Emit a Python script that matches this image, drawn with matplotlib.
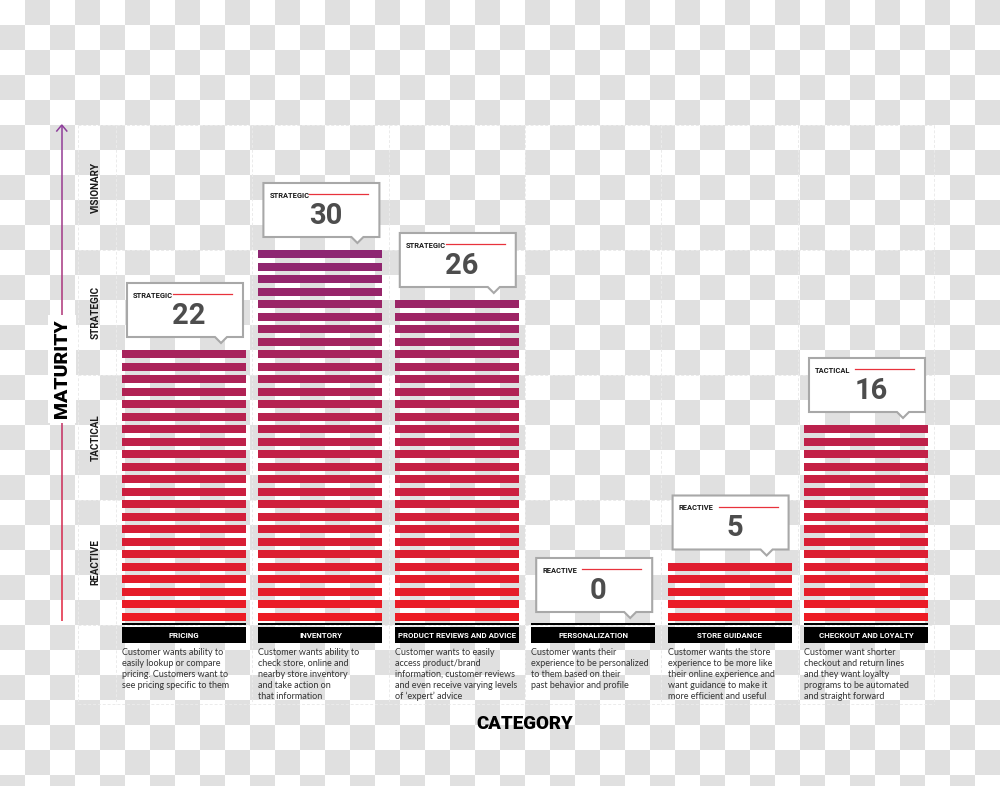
import numpy as np
import matplotlib
matplotlib.use("Agg")
import matplotlib.pyplot as plt
from matplotlib.patches import Polygon, Rectangle
from matplotlib.collections import LineCollection
from matplotlib.colors import LinearSegmentedColormap

plt.rcParams['font.family'] = ['Lato', 'DejaVu Sans']
BOLD = ['Roboto', 'DejaVu Sans']

# ---------------- data ----------------
categories = ["PRICING", "INVENTORY", "PRODUCT REVIEWS AND ADVICE",
              "PERSONALIZATION", "STORE GUIDANCE", "CHECKOUT AND LOYALTY"]
values = [22, 30, 26, 0, 5, 16]
levels = ["STRATEGIC", "STRATEGIC", "STRATEGIC", "REACTIVE", "REACTIVE", "TACTICAL"]
descriptions = [
    "Customer wants ability to\neasily lookup or compare\npricing. Customers want to\nsee pricing specific to them",
    "Customer wants ability to\ncheck store, online and\nnearby store inventory\nand take action on\nthat information",
    "Customer wants to easily\naccess product/brand\ninformation, customer reviews\nand even receive varying levels\nof \u2018expert\u2019 advice",
    "Customer wants their\nexperience to be personalized\nto them based on their\npast behavior and profile",
    "Customer wants the store\nexperience to be more like\ntheir online experience and\nwant guidance to make it\nmore efficient and useful",
    "Customer want shorter\ncheckout and return lines\nand they want loyalty\nprograms to be automated\nand straight forward",
]
band_labels = ["REACTIVE", "TACTICAL", "STRATEGIC", "VISIONARY"]
band_edges = [0, 10, 20, 30, 40]

# ---------------- figure ----------------
W, H = 1000, 786
fig = plt.figure(figsize=(W / 100, H / 100), dpi=100)

# checkerboard background (pixel coords)
bg = fig.add_axes([0, 0, 1, 1])
bg.axis('off')
nx, ny = 40, 32
ii, jj = np.mgrid[0:ny, 0:nx]
board = ((ii + jj) % 2).astype(float)
bg.imshow(board, cmap=LinearSegmentedColormap.from_list('cb', ['#ffffff', '#e0e0e0']),
          extent=(0, nx * 25, ny * 25, 0), interpolation='nearest', aspect='auto', zorder=0)
bg.set_xlim(0, W)
bg.set_ylim(H, 0)

# main axes in data coords
x_left_px, x_right_px = 115.8, 934.2
y0_px, y40_px = 625.0, 125.0
ax = fig.add_axes([x_left_px / W, 1 - y0_px / H, (x_right_px - x_left_px) / W, (y0_px - y40_px) / H])
ax.set_xlim(-0.5, 5.5)
ax.set_ylim(0, 40)
ax.axis('off')

PX = 6.0 / (x_right_px - x_left_px)   # data x per pixel
PY = 40.0 / (y0_px - y40_px)          # data y per pixel

xs = np.arange(len(categories))
colw = 124 * PX

# grid (dashed light lines)
gcol = '#ebebeb'
gl = dict(ls=(0, (3, 2)), color=gcol, lw=0.7, zorder=1, clip_on=False)
for yv in band_edges:
    ax.plot([-0.5 - 38 * PX, 5.5], [yv, yv], **gl)
ax.plot([-0.5 - 38 * PX, 5.5], [-79 * PY] * 2, **gl)
for xv in [-0.5 - 38 * PX, -0.5, 0.5, 1.5, 2.5, 3.5, 4.5, 5.5]:
    ax.plot([xv, xv], [40, -79 * PY], **gl)

# stripes colour gradient
c_low = np.array([237, 28, 36]) / 255
c_high = np.array([141, 38, 114]) / 255
maxv = 30
def stripe_color(k):
    t = (k - 1) / (maxv - 1)
    return tuple(c_low + (c_high - c_low) * t)

stripe_h = 8 * PY
vals = np.array(values)
for k in range(1, vals.max() + 1):
    sel = vals >= k
    ax.bar(xs[sel], stripe_h, bottom=k - stripe_h, width=colw, color=stripe_color(k),
           edgecolor='none', zorder=3)

# base black line, category boxes, descriptions
for i, cat in enumerate(categories):
    ax.add_patch(Rectangle((i - colw / 2, 0.0), colw, 1.7 * PY, facecolor='black',
                           edgecolor='none', zorder=4, clip_on=False))
    ax.add_patch(Rectangle((i - colw / 2, -17.7 * PY), colw, 15.4 * PY, facecolor='black',
                           edgecolor='none', zorder=4, clip_on=False))
    ax.text(i, -10.0 * PY, cat, color='white', fontsize=5.7, fontweight='bold', family=BOLD,
            ha='center', va='center', zorder=5, clip_on=False)
    ax.text(i - colw / 2, -23 * PY, descriptions[i], color='#333333', fontsize=6.45,
            ha='left', va='top', linespacing=1.28, zorder=5, clip_on=False)

# callouts
for i, v in enumerate(values):
    cx = i + 1 * PX
    bw = 116 * PX
    bl, br = cx - bw / 2, cx + bw / 2
    bb = v + 13 * PY
    bt = bb + 54 * PY
    px_c = br - 22 * PX
    poly = [(bl, bb), (px_c - 6 * PX, bb), (px_c, bb - 6 * PY), (px_c + 6 * PX, bb),
            (br, bb), (br, bt), (bl, bt)]
    ax.add_patch(Polygon(poly, closed=True, facecolor='white', edgecolor='#a8a8a8',
                         lw=1.5, joinstyle='miter', zorder=6, clip_on=False))
    ax.text(bl + 6 * PX, bt - 13 * PY, levels[i], fontsize=5.4, fontweight='bold', family=BOLD,
            color='#1a1a1a', ha='left', va='center', zorder=7, clip_on=False)
    ax.plot([bl + 46 * PX, br - 11 * PX], [bt - 11 * PY] * 2, color='#e8323c', lw=0.9,
            zorder=7, clip_on=False)
    ax.text(cx + 4 * PX, bt - 33 * PY, str(v), fontsize=21, fontweight='bold', family=BOLD,
            color='#4d4d4d', ha='center', va='center', zorder=7, clip_on=False)

# band labels
for lab, lo, hi in zip(band_labels, band_edges[:-1], band_edges[1:]):
    ax.text(-0.5 - 20 * PX, (lo + hi) / 2, lab, rotation=90, fontsize=7.1, fontweight='bold',
            family=BOLD, color='#1a1a1a', ha='center', va='center', zorder=5, clip_on=False)

# maturity arrow with gradient
ax_x = -0.5 - 54 * PX
ys = np.linspace(0.3, 40, 200)
pts = np.column_stack([np.full_like(ys, ax_x), ys])
segs = np.stack([pts[:-1], pts[1:]], axis=1)
red = np.array([228, 35, 60]) / 255
pur = np.array([142, 62, 155]) / 255
cols = [tuple(red + (pur - red) * (y / 40)) for y in ys[:-1]]
lc = LineCollection(segs, colors=cols, linewidths=1.1, zorder=4, clip_on=False)
ax.add_collection(lc)
ax.plot([ax_x - 5 * PX, ax_x, ax_x + 5 * PX], [40 - 6 * PY, 40, 40 - 6 * PY],
        color='#8e3e9b', lw=1.1, zorder=4, clip_on=False, solid_joinstyle='miter')
ax.text(ax_x, 20.5, "MATURITY", rotation=90, fontsize=14, fontweight='black', family=BOLD,
        color='black', ha='center', va='center', zorder=6, clip_on=False,
        bbox=dict(boxstyle='square,pad=0.25', facecolor='white', edgecolor='none'))

# category title
ax.text(2.5, -99 * PY, "CATEGORY", fontsize=13.5, fontweight='black', family=BOLD, color='black',
        ha='center', va='center', zorder=6, clip_on=False)

fig.savefig("out.png", dpi=100)
